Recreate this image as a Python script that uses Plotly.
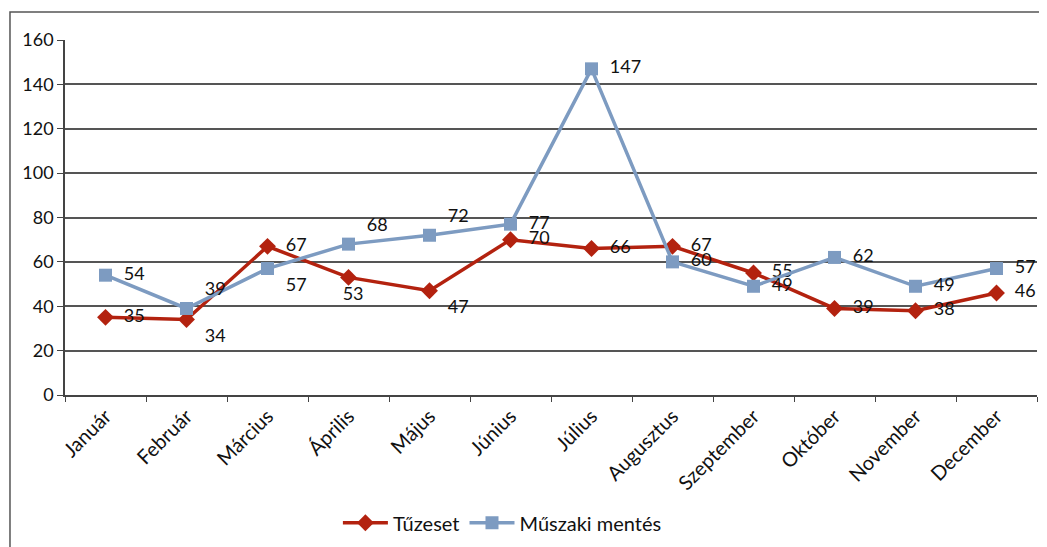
import plotly.graph_objects as go

months = ["Január", "Február", "Március", "Április", "Május", "Június",
          "Július", "Augusztus", "Szeptember", "Október", "November", "December"]
tuzeset = [35, 34, 67, 53, 47, 70, 66, 67, 55, 39, 38, 46]
muszaki = [54, 39, 57, 68, 72, 77, 147, 60, 49, 62, 49, 57]

tuz_pos = ["middle right", "bottom right", "middle right", "bottom center", "bottom right", "middle right",
           "middle right", "middle right", "middle right", "middle right", "middle right", "middle right"]
musz_pos = ["middle right", "top right", "bottom right", "top right", "top right", "middle right",
            "middle right", "middle right", "middle right", "middle right", "middle right", "middle right"]

RED = "#B3220F"
BLUE = "#7D9BC1"
FONT = "Lato"

fig = go.Figure()
fig.add_trace(go.Scatter(
    x=months, y=tuzeset, name="Tűzeset", mode="lines+markers+text",
    line=dict(color=RED, width=3.5),
    marker=dict(symbol="diamond", size=13, color=RED),
    text=["  " + str(v) for v in tuzeset], textposition=tuz_pos,
    textfont=dict(size=18, color="#111", family=FONT), cliponaxis=False))
fig.add_trace(go.Scatter(
    x=months, y=muszaki, name="Műszaki mentés", mode="lines+markers+text",
    line=dict(color=BLUE, width=3.5),
    marker=dict(symbol="square", size=13, color=BLUE),
    text=["  " + str(v) for v in muszaki], textposition=musz_pos,
    textfont=dict(size=18, color="#111", family=FONT), cliponaxis=False))

fig.update_layout(
    width=1047, height=547,
    margin=dict(l=57, r=18, t=32, b=160, autoexpand=False),
    paper_bgcolor="white", plot_bgcolor="white",
    font=dict(family=FONT, size=15, color="#111"),
    showlegend=True,
    legend=dict(orientation="h", x=0.45, xanchor="center", y=-0.305, yanchor="top",
                font=dict(size=20, family=FONT), traceorder="normal", itemwidth=45),
)
fig.update_xaxes(
    type="category", range=[-0.5, 11.5], automargin=False,
    showgrid=False, showline=True, linecolor="#444", linewidth=1.5,
    ticks="outside", tickson="boundaries", ticklen=5, tickcolor="#444",
    tickangle=-45, tickfont=dict(size=20, family=FONT))
fig.update_yaxes(
    range=[0, 160], dtick=20, automargin=False, showgrid=True, gridcolor="#555", gridwidth=1.5,
    showline=True, linecolor="#444", linewidth=1.5, zeroline=False,
    ticks="outside", ticklen=6, tickcolor="#444", tickfont=dict(size=18, family=FONT))

fig.add_shape(type="rect", xref="paper", yref="paper",
              x0=-0.0566, x1=1.03, y0=-0.5, y1=1.079,
              line=dict(color="#555", width=1.5), layer="below")

fig.write_html("out.html")
